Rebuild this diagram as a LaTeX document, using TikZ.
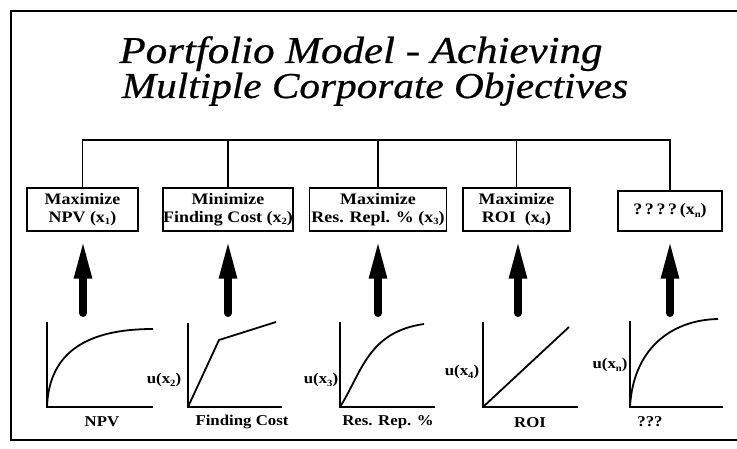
\documentclass[tikz,border=0pt]{standalone}
\usepackage{fontspec}
\usetikzlibrary{arrows.meta}
\setmainfont{Liberation Serif}
\newfontfamily\ttlfont[FakeStretch=1.13,FakeBold=0.6]{Liberation Serif}
\newfontfamily\lblfont[FakeStretch=1.12]{Liberation Serif}
% lowered index for x_1 ... x_n
\newcommand\lowidx[1]{\raisebox{-0.35ex}{\fontsize{9.5}{9.5}\selectfont #1}}

\begin{document}
\begin{tikzpicture}[x=1pt,y=-1pt,
  title/.style={font=\ttlfont\itshape, inner sep=0pt, anchor=base},
  objbox/.style={draw, line width=1.4pt, inner sep=0pt, minimum height=43pt, align=center,
                 font=\lblfont\bfseries\fontsize{16}{18}\selectfont},
  lbl/.style={font=\lblfont\bfseries\fontsize{15}{18}\selectfont, inner sep=0pt},
  bus/.style={line width=1.5pt},
  axis/.style={line width=1.6pt},
  curve/.style={line width=1.8pt},
  bigarrow/.style={line width=8pt, line cap=round,
                   -{Triangle[length=40pt,width=16pt]}, shorten >=7pt}]
\useasboundingbox (0,0) rectangle (737,449);

% outer frame
\draw[line width=2.4pt] (737,11) -- (11,11) -- (11,440) -- (737,440);

% title
\node[title, font=\ttlfont\itshape\fontsize{38}{38}\selectfont] (t1) at (361,63)
  {Portfolio Model - Achieving};
\node[title, font=\ttlfont\itshape\fontsize{36.5}{36.5}\selectfont] (t2) at (375,98)
  {Multiple Corporate Objectives};

% objective boxes
\node[objbox, minimum width=111pt] (b1) at (82.5,209.5) {Maximize\\NPV (x\lowidx{1})};
\node[objbox, minimum width=130pt] (b2) at (228,209.5) {Minimize\\Finding Cost (x\lowidx{2})};
\node[objbox, minimum width=137pt] (b3) at (378,209.5) {Maximize\\Res. Repl. \% (x\lowidx{3})};
\node[objbox, minimum width=107pt] (b4) at (516.5,209.5) {Maximize\\ROI\ \ (x\lowidx{4})};
\node[objbox, minimum width=104pt, minimum height=40pt] (b5) at (670,211) {?\,?\,?\,?\,(x\lowidx{n})};

% tree above the boxes
\coordinate (busline) at (0,140);
\draw[bus] (b1.north) -- (b1.north |- busline) -- (b5.north |- busline) -- (b5.north);
\draw[bus] (b2.north) -- (b2.north |- busline);
\draw[bus] (b3.north) -- (b3.north |- busline);
\draw[bus] (b4.north) -- (b4.north |- busline);

% utility curves
\draw[axis] (47,322) -- (47,407) -- (153,407);
\draw[curve] (47,407) .. controls (49,350) and (90,329) .. (153,329);
\draw[axis] (188,323) -- (188,407) -- (282,407);
\draw[curve] (188,407) -- (219,340) -- (276,322);
\draw[axis] (340,322) -- (340,407) -- (435,407);
\draw[curve] (340,407) .. controls (362,372) and (368,332) .. (424,324);
\draw[axis] (483,322) -- (483,407) -- (578,407);
\draw[curve] (483,407) -- (569,327);
\draw[axis] (630,321) -- (630,407) -- (723,407);
\draw[curve] (630,407) .. controls (633,350) and (670,320) .. (718,319);

% axis labels
\node[lbl] (x1) at (102,422) {NPV};
\node[lbl] (x2) at (242,422) {Finding Cost};
\node[lbl] (x3) at (388,422) {Res. Rep. \%};
\node[lbl] (x4) at (530,423) {ROI};
\node[lbl] (x5) at (650,422) {???};
\node[lbl] (u2) at (164,380) {u(x\lowidx{2})};
\node[lbl] (u3) at (321,380) {u(x\lowidx{3})};
\node[lbl] (u4) at (462,372) {u(x\lowidx{4})};
\node[lbl] (u5) at (610,365) {u(x\lowidx{n})};

% thick arrows from each curve up to its objective
\coordinate (g1) at (83,313);
\coordinate (g2) at (228,313);
\coordinate (g3) at (378,313);
\coordinate (g4) at (518,313);
\coordinate (g5) at (670,313);
\draw[bigarrow] (g1) -- (g1 |- b1.south);
\draw[bigarrow] (g2) -- (g2 |- b2.south);
\draw[bigarrow] (g3) -- (g3 |- b3.south);
\draw[bigarrow] (g4) -- (g4 |- b4.south);
\draw[bigarrow] (g5) -- (g5 |- b5.south);
\end{tikzpicture}
\end{document}
